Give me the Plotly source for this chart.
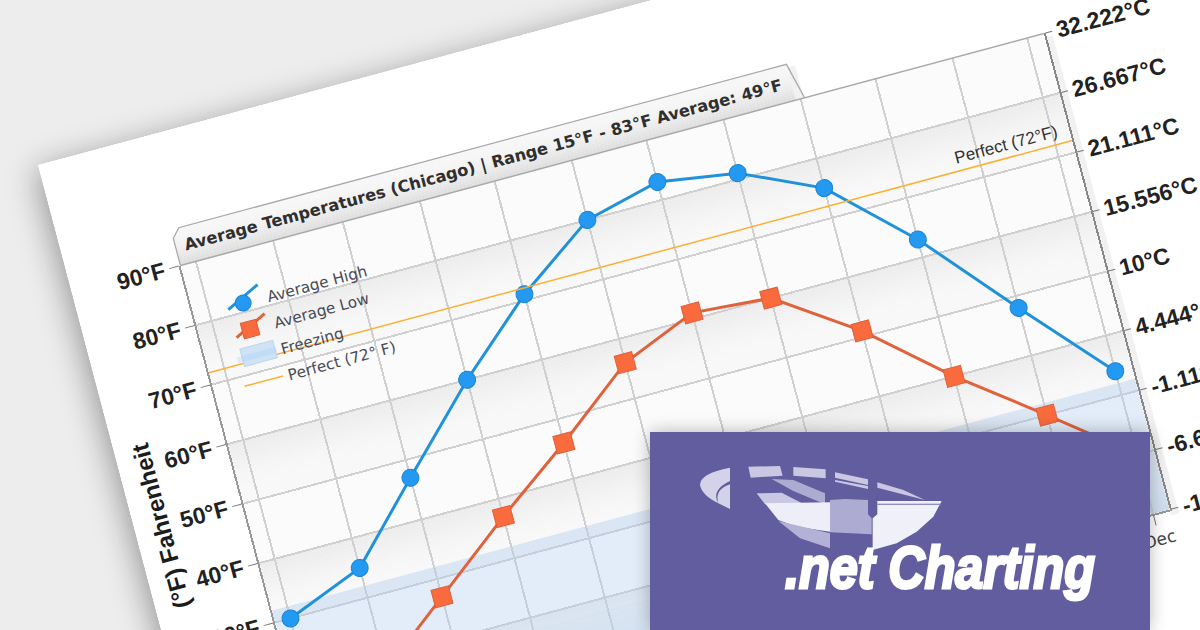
import plotly.graph_objects as go

# values
months = ["Jan", "Feb", "Mar", "Apr", "May", "Jun", "Jul", "Aug", "Sep", "Oct", "Nov", "Dec"]
month_dates = ["2023-01-01", "2023-02-01", "2023-03-01", "2023-04-01", "2023-05-01", "2023-06-01",
               "2023-07-01", "2023-08-01", "2023-09-01", "2023-10-01", "2023-11-01", "2023-12-01"]
avg_high = [30, 35, 47, 60, 71, 80, 83, 81, 75, 63, 48, 34]
avg_low = [15, 18, 27, 37, 46, 56, 61, 60, 51, 40, 30, 20]
freezing_f = 32
perfect_f = 72
f_ticks = [10, 20, 30, 40, 50, 60, 70, 80, 90]
c_labels = ["-12.222°C", "-6.667°C", "-1.111°C", "4.444°C", "10°C", "15.556°C", "21.111°C", "26.667°C", "32.222°C"]
title_text = "Average Temperatures (Chicago) | Range 15°F - 83°F Average: 49°F"


def to_c(f):
    return (f - 32) / 1.8


x_range = ["2022-12-25 19:00", "2023-12-07 17:00"]

# flat page size, the whole page gets tilted afterwards with css
FIG_W, FIG_H = 1250, 800
L, T, PW, PH = 112, 134, 893.6, 492


def px(x):
    return x / PW


def py(y):
    return 1 - y / PH


BLUE_LINE = dict(color="#2192d9", width=3)
BLUE_MARK = dict(symbol="circle", size=17, color="#2399f2", line=dict(color="#1b84d2", width=1))
RED_LINE = dict(color="#e0623c", width=3)
RED_MARK = dict(symbol="square", size=18, color="#f96b3c", line=dict(color="#dd5f38", width=1))

fig = go.Figure()

# legend entries come first, real series are drawn last so they sit on top of the band
fig.add_trace(go.Scatter(x=[None], y=[None], name="Average High", mode="markers", legendgroup="a", marker=BLUE_MARK))
fig.add_trace(go.Scatter(x=[None], y=[None], name="Average Low", mode="markers", legendgroup="b", marker=RED_MARK))
fig.add_trace(go.Scatter(x=x_range, y=[freezing_f, freezing_f], name="Freezing", mode="none", legendgroup="c",
                         fill="tozeroy", fillcolor="rgba(170,205,245,0.30)"))
fig.add_trace(go.Scatter(x=x_range, y=[to_c(perfect_f), to_c(perfect_f)], name="Perfect (72° F)", mode="lines",
                         legendgroup="d", yaxis="y2", line=dict(color="#fbb034", width=1.5)))
fig.add_trace(go.Scatter(x=month_dates, y=avg_high, mode="lines+markers", showlegend=False,
                         line=BLUE_LINE, marker=BLUE_MARK))
fig.add_trace(go.Scatter(x=month_dates, y=avg_low, mode="lines+markers", showlegend=False,
                         line=RED_LINE, marker=RED_MARK))

shapes = []

# shaded bands under every second gridline
for top in [80, 60, 40, 20]:
    n = 14
    for i in range(n):
        k = 1 - i / n
        g = int(248 - 12 * k ** 1.5)
        shapes.append(dict(type="rect", xref="paper", yref="y", layer="below", line_width=0,
                           x0=0, x1=1, y0=top - 10 * 0.7 * i / n, y1=top - 10 * 0.7 * (i + 1) / n,
                           fillcolor=f"rgb({g},{g},{g})"))
    shapes.append(dict(type="rect", xref="paper", yref="y", layer="below", line_width=0,
                       x0=0, x1=1, y0=top - 7, y1=top - 10, fillcolor="#f8f8f8"))

# the strip of the freezing band above 30°F reads a little darker
shapes.append(dict(type="rect", xref="paper", yref="y", layer="below", line_width=0,
                   x0=0, x1=1, y0=30, y1=freezing_f, fillcolor="#f0f1f3"))

# slight darkening at the foot of the freezing band
for i in range(8):
    shapes.append(dict(type="rect", xref="paper", yref="y", layer="below", line_width=0,
                       x0=0, x1=1, y0=18 - i, y1=17 - i, fillcolor=f"rgba(150,170,195,{0.03 + i * 0.03:.2f})"))

# soft shadow strip right of the plot
shapes.append(dict(type="rect", xref="paper", yref="paper", layer="below", line_width=0,
                   x0=1, x1=px(PW + 8), y0=py(PH + 6), y1=py(4), fillcolor="#f1f1f1"))
shapes.append(dict(type="rect", xref="paper", yref="paper", layer="below", line_width=0,
                   x0=px(637), x1=px(645), y0=py(0), y1=py(-34), fillcolor="#f1f1f1"))

# title tab with a gradient and cut corner
TAB_W, TAB_H, CUT = 637, 37, 8
n = 18
for i in range(n):
    y0 = -TAB_H + TAB_H * i / n
    y1 = -TAB_H + TAB_H * (i + 1) / n
    cut = max(0, CUT * (1 - (i / n) * TAB_H / CUT))
    g = int(247 - 30 * (i / n) ** 2)
    shapes.append(dict(type="rect", xref="paper", yref="paper", line_width=0,
                       x0=px(cut), x1=px(TAB_W), y0=py(y0), y1=py(y1), fillcolor=f"rgb({g},{g},{g})"))
tab_path = (f"M {px(0)} {py(0)} L {px(0)} {py(-28)} L {px(CUT)} {py(-TAB_H)} "
            f"L {px(TAB_W)} {py(-TAB_H)} L {px(TAB_W + 9)} {py(0)}")
shapes.append(dict(type="path", xref="paper", yref="paper", path=tab_path, line=dict(color="#a9a9a9", width=1.3)))
# top border of the plot
shapes.append(dict(type="line", xref="paper", yref="paper", x0=0, x1=1, y0=1, y1=1, line=dict(color="#a9a9a9", width=1.5)))

# legend pieces plotly cannot draw: slanted key lines and a stronger swatch
shapes.append(dict(type="line", xref="paper", yref="paper", x0=px(35), y0=py(55), x1=px(69.6), y1=py(38.3),
                   line=dict(color=BLUE_LINE["color"], width=3)))
shapes.append(dict(type="line", xref="paper", yref="paper", x0=px(35.8), y0=py(84), x1=px(69), y1=py(68.2),
                   line=dict(color=RED_LINE["color"], width=3)))
shapes.append(dict(type="rect", xref="paper", yref="paper", x0=px(36), x1=px(70), y0=py(114), y1=py(96),
                   fillcolor="#cfe2f6", line=dict(color="#bcd6ee", width=1)))

annotations = [
    dict(text=title_text, xref="paper", yref="paper", x=px(7), y=1, yshift=18, xanchor="left", yanchor="middle",
         showarrow=False, font=dict(family="DejaVu Sans", size=16.3, color="#2f2f2f", weight="bold")),
    dict(text="Perfect (72°F)", xref="paper", yref="y", x=px(884), y=perfect_f, yshift=2, xanchor="right", yanchor="bottom",
         showarrow=False, font=dict(family="Liberation Sans", size=17, color="#333333")),
    dict(text="(°F) Fahrenheit", xref="paper", yref="paper", x=px(-86), y=0.5, xanchor="center", yanchor="middle",
         textangle=-90, showarrow=False, font=dict(family="Liberation Sans", size=24, color="#1c1c1c", weight="bold")),
]

fig.update_layout(
    width=FIG_W, height=FIG_H, autosize=False,
    margin=dict(l=L, t=T, r=FIG_W - L - PW, b=FIG_H - T - PH, pad=0),
    paper_bgcolor="#ffffff", plot_bgcolor="#fbfbfb",
    shapes=shapes, annotations=annotations,
    showlegend=True,
    legend=dict(x=px(26), y=py(36), xanchor="left", yanchor="top", bgcolor="rgba(0,0,0,0)",
                traceorder="grouped", tracegroupgap=4, itemwidth=40,
                font=dict(family="DejaVu Sans", size=15.3, color="#4a4a55")),
    xaxis=dict(type="date", range=x_range, tickmode="array", tickvals=month_dates, ticktext=months, showgrid=True,
               gridcolor="#d0d0d0", gridwidth=1.6, zeroline=False, showline=True, linecolor="#999999", linewidth=1.5,
               ticks="outside", ticklen=10, tickcolor="#777777",
               tickfont=dict(family="DejaVu Sans", size=17, color="#444444")),
    yaxis=dict(range=[10, 90], tickmode="array", tickvals=f_ticks, ticktext=[f"{f}°F" for f in f_ticks],
               showgrid=True, gridcolor="#d0d0d0", gridwidth=1.6, zeroline=False, showline=True, linecolor="#999999",
               linewidth=1.5, ticks="outside", ticklen=10, tickcolor="#777777",
               tickfont=dict(family="Liberation Sans", size=23, color="#222222", weight="bold")),
    yaxis2=dict(range=[to_c(10), to_c(90)], overlaying="y", side="right", tickmode="array",
                tickvals=[to_c(f) for f in f_ticks], ticktext=c_labels, showgrid=False, zeroline=False, showline=True,
                linecolor="#888888", linewidth=1.5, ticks="outside", ticklen=7, tickcolor="#777777",
                tickfont=dict(family="Liberation Sans", size=23, color="#222222", weight="bold")),
)

# tilt of the page, grey backdrop and the logo panel that sits flat on top
post = """
var gd = document.getElementById('{plot_id}');
document.documentElement.style.cssText = 'margin:0;overflow:hidden;background:#ededed';
document.body.style.cssText = 'margin:0;overflow:hidden;background:#ededed;width:1200px;height:630px';
gd.style.position = 'absolute';
gd.style.left = '0';
gd.style.top = '0';
gd.style.transformOrigin = '0 0';
gd.style.transform = 'matrix(0.9657,-0.2596,0.2561,0.9675,38,165)';
gd.style.boxShadow = '-4px 6px 32px rgba(0,0,0,0.38)';
var logo = document.createElement('div');
logo.style.cssText = 'position:absolute;left:0;top:0;width:1200px;height:630px;pointer-events:none';
logo.innerHTML = `<svg xmlns="http://www.w3.org/2000/svg" width="1200" height="630">
<defs><filter id="s" x="-10%" y="-10%" width="120%" height="120%"><feGaussianBlur stdDeviation="9"/></filter></defs>
<rect x="650" y="432" width="500" height="198" fill="#000" opacity="0.28" filter="url(#s)"/>
<rect x="650" y="432" width="500" height="198" fill="#615d9e"/>
<g transform="translate(640,425) scale(0.33333)">
<path d="M270 128 Q180 145 180 180 Q185 210 235 235 Q212 195 270 168 L270 178 Q222 195 235 235 L270 252 Z" fill="#d3d2e8"/>
<path d="M325 125 L420 123 L428 152 L332 158 Z" fill="#c9c7e2"/>
<path d="M460 126 L557 133 L557 160 L460 152 Z" fill="#c9c7e2"/>
<path d="M585 142 L684 163 L684 180 L585 158 Z" fill="#c9c7e2"/>
<path d="M585 165 L684 183 L684 192 L585 170 Z" fill="#c9c7e2"/>
<path d="M712 172 L790 195 L855 225 L712 188 Z" fill="#c9c7e2"/>
<path d="M395 162 L460 165 L555 205 L555 238 L460 198 Z" fill="#aeabd3"/>
<path d="M350 205 L425 203 L555 270 L555 290 L470 240 L375 238 Z" fill="#c9c7e2"/>
<path d="M570 225 L615 222 L684 225 L684 268 L695 280 L695 328 L570 322 Z" fill="#aeabd3"/>
<path d="M375 235 L570 232 L570 320 L470 305 L415 285 Z" fill="#eeeef8"/>
<path d="M415 288 L570 325 L570 370 L480 340 Z" fill="#b4b1d7"/>
<path d="M712 228 L905 228 L880 275 L830 320 L770 355 L698 375 L698 280 L712 268 Z" fill="#f0f0f9"/>
<rect x="712" y="236" width="190" height="4" fill="#8f8cc0"/>
</g>
<text x="785" y="588" font-family="Liberation Sans" font-weight="bold" font-style="italic" font-size="60" fill="#ffffff" stroke="#ffffff" stroke-width="3" textLength="310" lengthAdjust="spacingAndGlyphs">.net Charting</text>
</svg>`;
document.body.appendChild(logo);
"""

fig.write_html("out.html", post_script=post, default_width=f"{FIG_W}px", default_height=f"{FIG_H}px",
               config={"displayModeBar": False, "responsive": False})
